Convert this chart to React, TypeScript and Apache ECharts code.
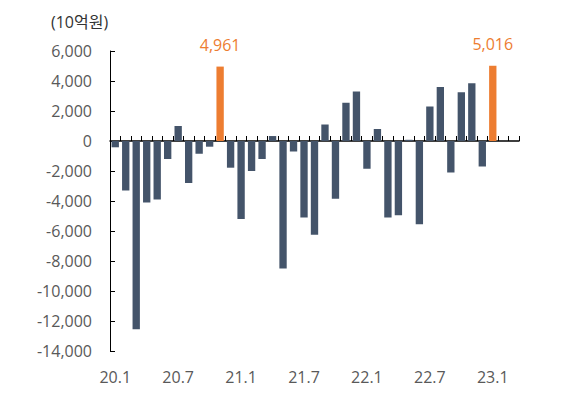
import React, { useEffect, useRef } from "react";
import * as echarts from "echarts";

const categories = [
  "20.1", "20.2", "20.3", "20.4", "20.5", "20.6", "20.7", "20.8", "20.9", "20.10", "20.11", "20.12",
  "21.1", "21.2", "21.3", "21.4", "21.5", "21.6", "21.7", "21.8", "21.9", "21.10", "21.11", "21.12",
  "22.1", "22.2", "22.3", "22.4", "22.5", "22.6", "22.7", "22.8", "22.9", "22.10", "22.11", "22.12",
  "23.1", "23.2", "23.3",
];

const values = [
  -420, -3300, -12550, -4100, -3900, -1200, 1000, -2800, -850, -380, 4961, -1780,
  -5200, -2000, -1200, 330, -8500, -700, -5100, -6250, 1100, -3850, 2550, 3300,
  -1850, 800, -5100, -4950, 80, -5550, 2300, 3600, -2100, 3250, 3850, -1700,
  5016,
];

const highlighted = ["20.11", "23.1"];

const yTicks = { min: -14000, max: 6000, interval: 2000 };

const FONT = "'Open Sans', 'Noto Sans CJK KR', sans-serif";

export default function App() {
  const ref = useRef<HTMLDivElement>(null);

  useEffect(() => {
    if (!ref.current) return;
    const chart = echarts.init(ref.current, null, { renderer: "svg" });

    const data = values.map((v, i) => {
      const hi = highlighted.includes(categories[i]);
      return {
        value: v,
        itemStyle: { color: hi ? "#ED7D31" : "#44546A" },
        label: hi
          ? {
              show: true,
              position: "top",
              distance: 14,
              color: "#ED7D31",
              fontSize: 16,
              fontFamily: FONT,
              formatter: (p: any) => Number(p.value).toLocaleString("en-US"),
            }
          : { show: false },
      };
    });

    chart.setOption({
      animation: false,
      textStyle: { fontFamily: FONT },
      graphic: [
        {
          type: "text",
          left: 51,
          top: 14,
          style: {
            text: "(10억원)",
            fontSize: 16,
            fontFamily: FONT,
            fill: "#333333",
          },
        },
      ],
      grid: { left: 110, right: 60, top: 51, bottom: 42 },
      xAxis: [
        {
          type: "category",
          data: categories,
          position: "bottom",
          axisLine: { show: true, onZero: true, lineStyle: { color: "#000", width: 1.5 } },
          axisTick: { show: true, inside: true, length: 5, interval: 0, lineStyle: { color: "#000" } },
          axisLabel: { show: false },
          splitLine: { show: false },
        },
        {
          type: "category",
          data: categories,
          position: "bottom",
          axisLine: { show: false, onZero: false },
          axisTick: { show: false },
          axisLabel: {
            show: true,
            interval: 5,
            color: "#595959",
            fontSize: 16,
            fontFamily: FONT,
            margin: 18,
          },
          splitLine: { show: false },
        },
      ],
      yAxis: {
        type: "value",
        min: yTicks.min,
        max: yTicks.max,
        interval: yTicks.interval,
        axisLine: { show: true, lineStyle: { color: "#000", width: 1 } },
        axisTick: { show: true, inside: true, length: 5, lineStyle: { color: "#000" } },
        axisLabel: {
          color: "#595959",
          fontSize: 16,
          fontFamily: FONT,
          margin: 18,
          formatter: (v: number) => v.toLocaleString("en-US"),
        },
        splitLine: { show: false },
      },
      series: [
        {
          type: "bar",
          xAxisIndex: 0,
          data,
          barCategoryGap: "30%",
        },
      ],
    });

    return () => chart.dispose();
  }, []);

  return (
    <div
      ref={ref}
      style={{ position: "fixed", left: 0, top: 0, width: 579, height: 393, background: "#fff" }}
    />
  );
}
